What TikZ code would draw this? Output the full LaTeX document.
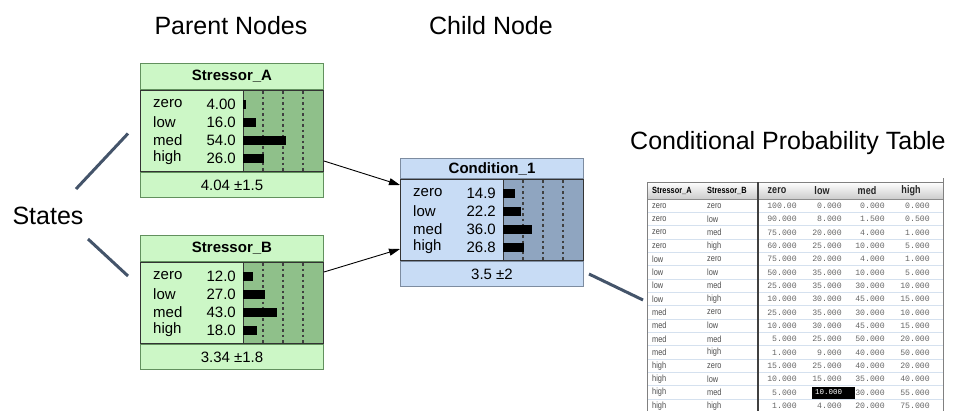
\documentclass[tikz,border=0pt]{standalone}
\usepackage{fontspec}
\setmainfont{Liberation Sans}
\setmonofont{Liberation Mono}
\newfontfamily\narrowsf[FakeStretch=0.82]{Liberation Sans}
\usetikzlibrary{arrows.meta, positioning, calc}
\definecolor{pFill}{HTML}{CCF7C6}
\definecolor{pBar}{HTML}{8FC08A}
\definecolor{pLine}{HTML}{62905E}
\definecolor{cFill}{HTML}{C8DCF5}
\definecolor{cBar}{HTML}{8FA5C0}
\definecolor{cLine}{HTML}{7D8CA0}
\definecolor{sLine}{HTML}{44546A}
\definecolor{rowLine}{HTML}{D5E1EF}

\begin{document}
\begin{tikzpicture}[x=1pt, y=-1pt, every node/.style={inner sep=0pt},
    big/.style={font=\fontsize{25}{30}\selectfont},
    nbox/.style={minimum width=183pt, line width=1pt, font=\fontsize{15}{18}\selectfont},
    stlbl/.style={font=\fontsize{15}{18}\selectfont},
    arr/.style={-{Triangle[length=11pt, width=7pt]}, line width=0.9pt},
    pointer/.style={sLine, line width=3pt},
    dotline/.style={black!75, line width=1.1pt, dash pattern=on 2.5pt off 3pt},
    rowline/.style={rowLine, line width=0.8pt},
    cellsf/.style={font=\narrowsf\fontsize{9}{11}\selectfont, text=black!70},
    cellmono/.style={font=\ttfamily\fontsize{8.2}{10}\selectfont}]
    \useasboundingbox (0,0) rectangle (956,410);

    % headings
    \node[big, anchor=base] (parents) at (231,34) {Parent Nodes};
    \node[big, anchor=base] (child) at (491,34) {Child Node};
    \node[big, anchor=base west] (cpt-ttl) at (630,149) {Conditional Probability Table};
    \node[big] (states) at (48,216) {States};

    % network nodes
    \foreach \nm/\kind/\x/\y/\hh/\ttl/\mean/\vals in {
        stressA/p/140/63/26pt/{Stressor\_A}/{4.04 ±1.5}/{4.00/zero,16.0/low,54.0/med,26.0/high},
        stressB/p/140/235/26pt/{Stressor\_B}/{3.34 ±1.8}/{12.0/zero,27.0/low,43.0/med,18.0/high},
        cond/c/400/158/20pt/{Condition\_1}/{3.5 ±2}/{14.9/zero,22.2/low,36.0/med,26.8/high}} {
      \node[nbox, fill=\kind Fill, draw=\kind Line, minimum height=\hh, anchor=north west]
        (\nm-ttl) at (\x,\y) {\bfseries\ttl};
      \node[nbox, fill=\kind Fill, draw=black!80, minimum height=81pt, anchor=north]
        (\nm) at (\nm-ttl.south) {};
      \node[fill=\kind Bar, draw=black!80, line width=1pt, minimum width=80pt,
            minimum height=81pt, anchor=north east] (\nm-bars) at (\nm.north east) {};
      \node[nbox, fill=\kind Fill, draw=\kind Line, minimum height=25pt, anchor=north]
        (\nm-mean) at (\nm.south) {\mean};
      \foreach \k in {1,2,3}
        \draw[dotline] ($(\nm-bars.north west)+(20*\k,1)$) -- ($(\nm-bars.south west)+(20*\k,-1)$);
      \foreach \v/\lbl [count=\i from 0] in \vals {
        \pgfmathsetmacro{\ry}{14+18*\i}
        \node[stlbl, anchor=west] (\nm-l\i) at ($(\nm.north west)+(13,\ry)$) {\lbl};
        \node[stlbl, anchor=east] (\nm-v\i) at ($(\nm.north west)+(96,\ry)$) {\v};
        \fill ($(\nm-bars.north west)+(0,\ry-4.5)$) rectangle ++(0.8*\v,9);
      }
    }

    % links
    \draw[arr] ($(stressA.east)+(0,30)$) -- ($(cond.west)+(0,-35)$);
    \draw[arr] ($(stressB.east)+(0,-31)$) -- ($(cond.west)+(0,29)$);

    % conditional probability table
    \coordinate (cpt) at (647,182);
    \begin{scope}
      \clip (640,176) rectangle (950,410);
      \shade[top color=white, bottom color=black!20] (cpt) rectangle (943,199);
      \node[font=\narrowsf\bfseries\fontsize{9}{11}\selectfont, anchor=west] (h-sa) at (652,190.5) {Stressor\_A};
      \node[font=\narrowsf\bfseries\fontsize{9}{11}\selectfont, anchor=west] (h-sb) at (707,190.5) {Stressor\_B};
      \foreach \st/\hx in {zero/777, low/822, med/867, high/911}
        \node[font=\narrowsf\bfseries\fontsize{11}{13}\selectfont, text=black!85] (h-\st) at (\hx,190.5) {\st};
      \draw[black!45] (647,199) -- (943,199);
      \foreach \sa/\sb/\vz/\vl/\vm/\vh [count=\i from 0] in {
          zero/zero/100.00/0.000/0.000/0.000, zero/low/90.000/8.000/1.500/0.500,
          zero/med/75.000/20.000/4.000/1.000, zero/high/60.000/25.000/10.000/5.000,
          low/zero/75.000/20.000/4.000/1.000, low/low/50.000/35.000/10.000/5.000,
          low/med/25.000/35.000/30.000/10.000, low/high/10.000/30.000/45.000/15.000,
          med/zero/25.000/35.000/30.000/10.000, med/low/10.000/30.000/45.000/15.000,
          med/med/5.000/25.000/50.000/20.000, med/high/1.000/9.000/40.000/50.000,
          high/zero/15.000/25.000/40.000/20.000, high/low/10.000/15.000/35.000/40.000,
          high/med/5.000/10.000/30.000/55.000, high/high/1.000/4.000/20.000/75.000} {
        \pgfmathsetmacro{\ty}{205.7+13.333*\i}
        \draw[rowline] (647,\ty+6.67) -- (943,\ty+6.67);
        \node[cellsf, anchor=west] (r\i-a) at (652,\ty) {\sa};
        \node[cellsf, anchor=west] (r\i-b) at (707,\ty) {\sb};
        \node[cellmono, text=black!60, anchor=east] (r\i-z) at (797,\ty) {\vz};
        \ifnum\i=14
          \fill (812,\ty-5.5) rectangle (855,\ty+6.5);
          \node[font=\ttfamily\fontsize{7.5}{9}\selectfont, text=white, anchor=west] (r\i-l) at (815,\ty) {\vl};
        \else
          \node[cellmono, text=black!60, anchor=east] (r\i-l) at (842,\ty) {\vl};
        \fi
        \node[cellmono, text=black!60, anchor=east] (r\i-m) at (885,\ty) {\vm};
        \node[cellmono, text=black!60, anchor=east] (r\i-h) at (930,\ty) {\vh};
      }
      \draw[black!50] (647,182) rectangle (943,420);
      \draw[black!50] (943,178) -- (943,182);
      \draw[black!75, line width=1.6pt] (758,182) -- (758,420);
    \end{scope}

    % pointers
    \draw[pointer] ($(states.center)+(28,-27)$) -- ($(stressA.west)+(-12,2.5)$);
    \draw[pointer] ($(states.center)+(40,23)$) -- ($(stressB.west)+(-12,-27)$);
    \draw[pointer] ($(cond-mean.east)+(5,0)$) -- ($(cpt)+(-4,118)$);
\end{tikzpicture}
\end{document}
